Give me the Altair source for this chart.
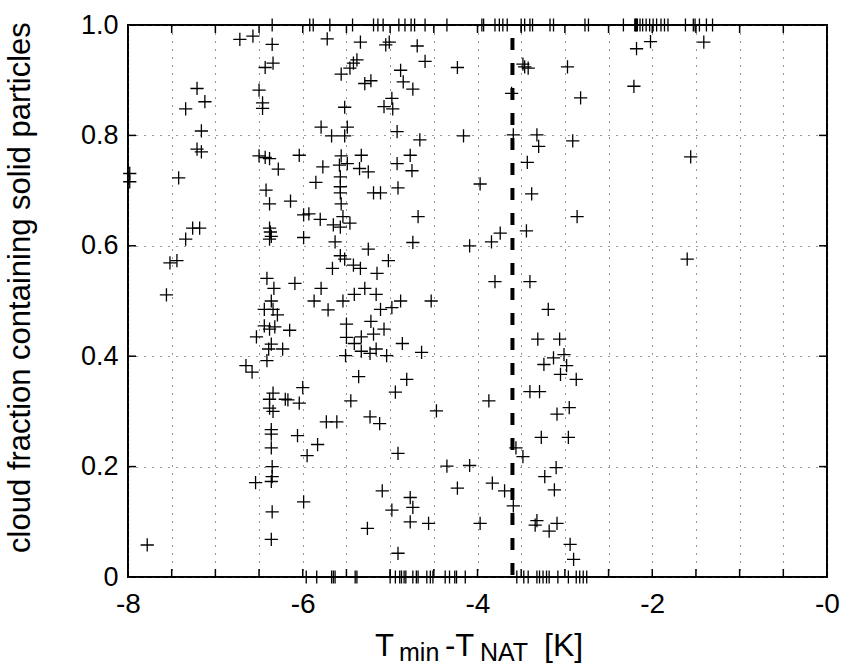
import altair as alt
import pandas as pd

FONT = "Liberation Sans"
W, H = 699, 552

# ---- data ----
# points lying on the upper frame (fraction = 1)
top_x = [-6.35, -5.92, -5.88, -5.69, -5.43, -5.19, -5.14, -5.08, -4.90, -4.83,
         -4.76, -4.72, -4.60, -4.35, -3.95, -3.93, -3.80, -3.75, -3.71, -3.66,
         -3.50, -3.46, -3.40, -3.37, -3.17, -3.13, -2.77, -2.73, -2.33, -2.20,
         -2.19, -2.18, -2.17, -2.14, -2.11, -2.07, -2.03, -1.99, -1.95, -1.90,
         -1.86, -1.82, -1.62, -1.53, -1.51, -1.46, -1.38, -1.31]
# points lying on the lower frame (fraction = 0)
bottom_x = [-5.96, -5.84, -5.67, -5.65, -5.63, -5.40, -5.38, -5.00, -4.94, -4.89,
            -4.87, -4.84, -4.82, -4.74, -4.70, -4.68, -4.58, -4.54, -4.51, -4.37,
            -4.32, -4.26, -4.24, -4.14, -3.55, -3.47, -3.42, -3.32, -3.29, -3.25,
            -3.21, -3.18, -3.08, -2.96, -2.87, -2.83, -2.79, -2.75]

inner_x = [
    -6.72, -6.57, -6.35, -5.72, -6.43, -6.34, -5.56, -7.21, -6.50, -7.12,
    -6.46, -7.34, -6.46, -5.52, -5.79, -7.16, -5.67, -5.52, -5.49, -7.21,
    -7.16, -6.50, -6.43, -6.38, -6.04, -5.56, -6.28, -5.77, -5.58, -5.49,
    -7.98, -7.98, -7.42, -5.85, -5.57, -5.57, -6.42, -5.57, -6.14, -6.38,
    -5.56, -5.99, -5.93, -5.80, -6.38, -7.26, -7.18, -5.65, -5.57, -5.54,
    -7.34, -6.38, -6.36, -6.37, -5.99, -5.63, -7.52, -7.44, -5.57, -5.52,
    -5.66, -6.41, -6.09,
    -5.34, -5.05, -5.01, -4.69, -5.38, -5.42, -5.46, -4.88, -4.60, -4.23,
    -5.29, -5.22, -4.85, -4.74, -3.48, -3.46, -3.42, -2.97, -2.82, -3.61,
    -4.98, -5.07, -4.97, -4.92, -4.66, -4.16, -3.59, -3.32, -3.30, -2.91,
    -5.33, -4.77, -5.35, -5.25, -4.92, -4.75, -3.43, -5.19, -5.11, -4.91,
    -3.97, -3.38, -4.68, -2.86, -5.46, -3.74, -3.44, -3.84, -4.09, -4.74,
    -5.25, -5.42, -5.34, -5.15, -5.02, -3.80, -3.40,
    -2.18, -2.02, -1.41, -2.21, -1.56, -1.60,
    -5.29, -5.41, -5.16, -5.54, -4.88, -4.53, -5.11, -4.98, -3.19, -5.50,
    -5.22, -5.07, -5.19, -5.50, -5.41, -5.33, -4.86, -3.31, -3.06, -5.33,
    -5.23, -5.16, -5.51, -5.04, -4.64, -3.13, -3.01, -3.24, -2.98, -3.05,
    -2.87, -5.36, -4.81, -4.94, -3.40, -3.29, -5.45, -3.87, -2.95, -4.47,
    -3.09, -5.23, -5.12, -3.27, -2.96, -3.56, -3.48, -4.91, -4.35, -4.09,
    -3.10, -3.23, -3.12, -5.09, -4.23, -3.83, -3.69, -3.59, -4.77, -4.74,
    -4.98, -4.77, -4.56, -5.26, -3.97, -3.32, -3.34, -3.09, -3.18, -2.94,
    -4.91, -2.90,
    -7.56, -6.33, -5.79, -6.36, -5.87, -6.44, -6.34, -5.71, -6.29, -6.44,
    -6.38, -6.32, -6.15, -6.53, -6.36, -6.39, -6.23, -6.41, -6.65, -6.58,
    -6.00, -6.34, -6.38, -6.20, -6.17, -6.04, -6.38, -6.34, -5.73, -5.61,
    -6.36, -6.36, -6.06, -5.83, -6.36, -5.95, -6.35, -6.35, -6.54, -6.36,
    -5.99, -6.35, -6.36, -7.78,
]
inner_y = [
    0.974, 0.980, 0.965, 0.975, 0.923, 0.931, 0.911, 0.885, 0.882, 0.861,
    0.859, 0.848, 0.849, 0.851, 0.815, 0.808, 0.799, 0.799, 0.815, 0.775,
    0.770, 0.763, 0.760, 0.758, 0.764, 0.763, 0.739, 0.743, 0.746, 0.749,
    0.731, 0.716, 0.723, 0.715, 0.725, 0.707, 0.701, 0.696, 0.681, 0.676,
    0.676, 0.656, 0.658, 0.648, 0.632, 0.632, 0.632, 0.638, 0.634, 0.653,
    0.612, 0.612, 0.617, 0.625, 0.615, 0.607, 0.569, 0.573, 0.582, 0.576,
    0.559, 0.541, 0.532,
    0.969, 0.964, 0.969, 0.962, 0.937, 0.931, 0.922, 0.918, 0.934, 0.923,
    0.894, 0.899, 0.897, 0.884, 0.929, 0.924, 0.922, 0.924, 0.868, 0.876,
    0.867, 0.852, 0.848, 0.807, 0.792, 0.799, 0.801, 0.801, 0.780, 0.790,
    0.764, 0.764, 0.740, 0.734, 0.749, 0.736, 0.751, 0.696, 0.696, 0.705,
    0.712, 0.694, 0.653, 0.653, 0.641, 0.623, 0.627, 0.607, 0.600, 0.606,
    0.594, 0.565, 0.559, 0.550, 0.573, 0.535, 0.535,
    0.957, 0.970, 0.969, 0.889, 0.761, 0.576,
    0.523, 0.512, 0.512, 0.500, 0.500, 0.500, 0.485, 0.488, 0.485, 0.458,
    0.463, 0.449, 0.440, 0.434, 0.423, 0.435, 0.423, 0.431, 0.431, 0.409,
    0.405, 0.413, 0.401, 0.401, 0.407, 0.397, 0.403, 0.385, 0.383, 0.367,
    0.358, 0.363, 0.358, 0.335, 0.336, 0.336, 0.319, 0.319, 0.307, 0.301,
    0.295, 0.290, 0.278, 0.253, 0.253, 0.234, 0.218, 0.224, 0.201, 0.202,
    0.198, 0.182, 0.158, 0.156, 0.161, 0.170, 0.156, 0.129, 0.144, 0.126,
    0.121, 0.100, 0.097, 0.088, 0.097, 0.102, 0.094, 0.097, 0.083, 0.059,
    0.043, 0.032,
    0.511, 0.523, 0.523, 0.500, 0.500, 0.485, 0.485, 0.484, 0.475, 0.455,
    0.449, 0.453, 0.447, 0.435, 0.422, 0.413, 0.413, 0.392, 0.383, 0.371,
    0.343, 0.333, 0.322, 0.322, 0.321, 0.315, 0.306, 0.300, 0.281, 0.281,
    0.267, 0.259, 0.256, 0.240, 0.234, 0.220, 0.200, 0.182, 0.171, 0.173,
    0.136, 0.118, 0.068, 0.058,
]

nat_threshold = [-3.6]

x_axis_values = [-8.0, -7.5, -7.0, -6.5, -6.0, -5.5, -5.0, -4.5, -4.0,
                 -3.5, -3.0, -2.5, -2.0, -1.5, -1.0, -0.5, 0.0]
x_minor_ticks = [-7.5, -7.0, -6.5, -6.0, -5.5, -5.0, -4.5, -4.0,
                 -3.5, -3.0, -2.5, -2.0, -1.5, -1.0, -0.5]
y_axis_values = [0.0, 0.2, 0.4, 0.6, 0.8, 1.0]
y_minor_ticks = [0.2, 0.4, 0.6, 0.8]

y_title = "cloud fraction containing solid particles"

# ---- build ----
temp_diff = inner_x + top_x + bottom_x
solid_frac = inner_y + [1.0 for _ in top_x] + [0.0 for _ in bottom_x]
df = pd.DataFrame({"dT": temp_diff, "frac": solid_frac})

x_scale = alt.Scale(domain=[-8, 0], nice=False, zero=False)
y_scale = alt.Scale(domain=[0, 1], nice=False, zero=False)

x_axis = alt.Axis(
    values=x_axis_values, grid=True, gridDash=[1, 7], gridColor="#333",
    gridWidth=1, ticks=False, tickSize=0, domain=False, title=None,
    labelExpr="datum.value == 0 ? '-0' : (datum.value % 2 == 0 ? '-' + abs(datum.value) : '')",
    labelFont=FONT, labelFontSize=28, labelColor="black", labelPadding=13,
    labelFlush=False, labelOverlap=False,
)
y_axis = alt.Axis(
    values=y_axis_values, grid=True, gridDash=[1, 7], gridColor="#333",
    gridWidth=1, ticks=False, tickSize=0, domain=False,
    labelExpr="datum.value == 0 ? '0' : format(datum.value, '.1f')",
    labelFont=FONT, labelFontSize=27, labelColor="black", labelPadding=10,
    labelFlush=False, labelOverlap=False,
    title=y_title, titleFont=FONT, titleFontSize=31, titleFontWeight="normal",
    titleColor="black", titleAngle=270, titleBaseline="alphabetic",
    titleAlign="center", titleX=-99, titleY=262,
)

points = alt.Chart(df).mark_point(
    shape="M-1,0L1,0M0,-1L0,1", size=175, filled=False, color="black",
    strokeWidth=1.3, opacity=1,
).encode(
    x=alt.X("dT:Q", scale=x_scale, axis=x_axis),
    y=alt.Y("frac:Q", scale=y_scale, axis=y_axis),
)

dashed = alt.Chart(pd.DataFrame({"dT": nat_threshold})).mark_rule(
    color="black", strokeWidth=4, strokeDash=[12, 13], strokeDashOffset=12,
).encode(
    x=alt.X("dT:Q", scale=x_scale),
    y=alt.value(0), y2=alt.value(H),
)

xt = pd.DataFrame({"dT": x_minor_ticks})
yt = pd.DataFrame({"frac": y_minor_ticks})
tick_style = dict(color="black", strokeWidth=1.5)
ticks_bottom = alt.Chart(xt).mark_rule(**tick_style).encode(
    x=alt.X("dT:Q", scale=x_scale), y=alt.value(H), y2=alt.value(H - 8))
ticks_top = alt.Chart(xt).mark_rule(**tick_style).encode(
    x=alt.X("dT:Q", scale=x_scale), y=alt.value(0), y2=alt.value(8))
ticks_left = alt.Chart(yt).mark_rule(**tick_style).encode(
    y=alt.Y("frac:Q", scale=y_scale), x=alt.value(0), x2=alt.value(8))
ticks_right = alt.Chart(yt).mark_rule(**tick_style).encode(
    y=alt.Y("frac:Q", scale=y_scale), x=alt.value(W), x2=alt.value(W - 8))


def piece(txt, px, py, fs):
    return alt.Chart(pd.DataFrame({"s": [txt]})).mark_text(
        font=FONT, fontSize=fs, align="left", baseline="alphabetic", color="black"
    ).encode(text="s:N", x=alt.value(px), y=alt.value(py))


title_parts = [
    piece("T", 247, 631, 31),
    piece("min", 271, 636, 25),
    piece("-T", 317, 631, 31),
    piece("NAT", 352, 636, 25),
    piece("[K]", 416, 631, 32),
]

chart = alt.layer(
    points, dashed, ticks_bottom, ticks_top, ticks_left, ticks_right, *title_parts
).properties(
    width=W, height=H,
    autosize=alt.AutoSizeParams(type="none"),
    padding={"left": 128, "top": 25, "right": 17, "bottom": 90},
    background="white",
).configure_view(stroke="black", strokeWidth=2)

chart.save("out.html", embed_options={"renderer": "svg", "actions": False})
